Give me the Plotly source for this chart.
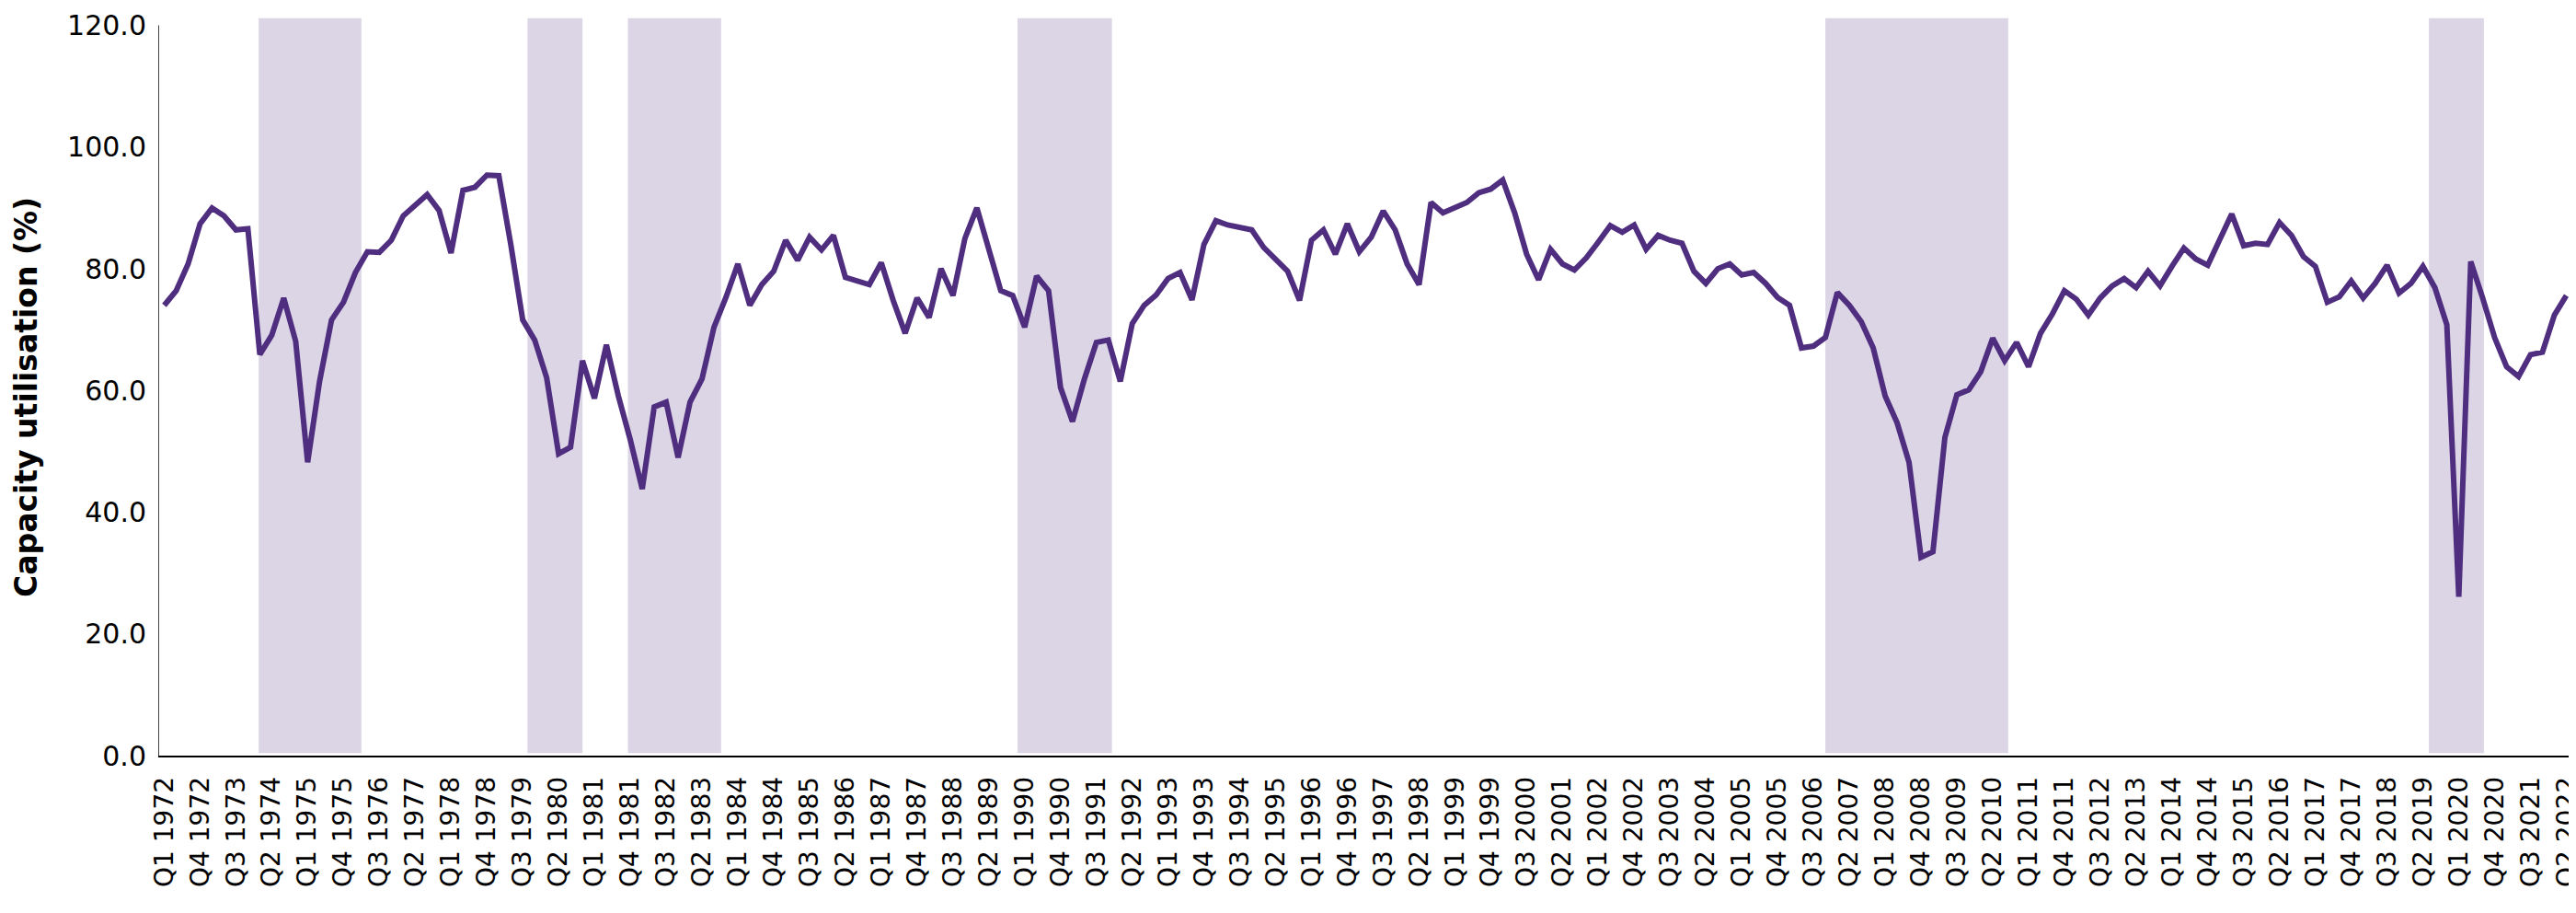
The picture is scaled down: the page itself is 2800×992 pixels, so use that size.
import plotly.graph_objects as go

# ---------------- data ----------------
years = list(range(1972, 2023))
quarters = [f"Q{q} {y}" for y in years for q in (1, 2, 3, 4)][:202]  # Q1 1972 .. Q2 2022

capacity_utilisation = [
    # 1972 - 1981
    74.0, 76.4, 80.8, 87.4, 90.0, 88.7, 86.4, 86.6, 65.9, 69.1,
    75.2, 68.1, 48.2, 61.5, 71.6, 74.5, 79.4, 82.8, 82.7, 84.7,
    88.7, 90.6, 92.2, 89.6, 82.6, 92.9, 93.4, 95.4, 95.3, 84.0,
    71.6, 68.3, 62.1, 49.6, 50.7, 64.9, 58.7, 67.5, 59.1, 51.9,
    # 1982 - 1991
    43.8, 57.3, 58.1, 49.0, 58.1, 61.9, 70.4, 75.3, 80.8, 74.0,
    77.4, 79.6, 84.7, 81.4, 85.2, 83.1, 85.5, 78.6, 78.1, 77.4,
    81.0, 74.8, 69.4, 75.2, 72.0, 80.0, 75.6, 85.0, 90.0, 83.2,
    76.4, 75.6, 70.4, 78.8, 76.4, 60.5, 54.9, 61.9, 67.9, 68.3,
    # 1992 - 2001
    61.5, 71.0, 74.0, 75.7, 78.4, 79.4, 74.9, 84.0, 87.9, 87.2,
    86.8, 86.4, 83.5, 81.4, 79.6, 74.8, 84.7, 86.4, 82.4, 87.4,
    82.8, 85.2, 89.5, 86.4, 80.8, 77.4, 90.9, 89.2, 90.0, 90.9,
    92.5, 93.1, 94.6, 89.2, 82.4, 78.2, 83.2, 80.8, 79.8, 81.8,
    # 2002 - 2011
    84.4, 87.1, 86.0, 87.2, 83.2, 85.5, 84.7, 84.2, 79.6, 77.6,
    80.0, 80.8, 79.0, 79.4, 77.6, 75.3, 74.0, 67.0, 67.3, 68.7,
    76.1, 74.0, 71.3, 67.0, 59.1, 54.7, 48.2, 32.6, 33.5, 52.3,
    59.3, 60.1, 63.1, 68.6, 64.9, 67.9, 63.9, 69.4, 72.6, 76.4,
    # 2012 - 2022
    75.0, 72.4, 75.2, 77.2, 78.4, 76.9, 79.6, 77.2, 80.4, 83.4,
    81.6, 80.6, 84.8, 89.0, 83.8, 84.2, 84.0, 87.6, 85.5, 82.0,
    80.4, 74.5, 75.4, 78.0, 75.2, 77.6, 80.6, 76.0, 77.6, 80.4,
    76.9, 70.8, 26.1, 81.2, 75.2, 68.7, 63.9, 62.3, 65.9, 66.3,
    72.4, 75.6,
]

tick_labels = quarters[::3]
y_tick_values = [0, 20, 40, 60, 80, 100, 120]

# shaded downturn periods, in quarter positions along the category axis
recession_start = [7.9, 30.4, 38.8, 71.4, 139.0, 189.5]
recession_end = [16.5, 35.0, 46.6, 79.3, 154.3, 194.1]

# ---------------- figure ----------------
LINE_COLOR = "#4F2D7F"
SHADE_COLOR = "#DBD5E6"
FONT = "DejaVu Sans"

fig = go.Figure()

fig.add_trace(go.Scatter(
    x=quarters,
    y=capacity_utilisation,
    mode="lines",
    line=dict(color=LINE_COLOR, width=6),
    hoverinfo="x+y",
    showlegend=False,
))

shapes = []
for x0, x1 in zip(recession_start, recession_end):
    shapes.append(dict(
        type="rect", xref="x", yref="y",
        x0=x0, x1=x1, y0=0.4, y1=121.2,
        fillcolor=SHADE_COLOR, line=dict(width=0), layer="below",
    ))
# vertical axis line (0 to 120)
shapes.append(dict(
    type="line", xref="x", yref="y",
    x0=-0.5, x1=-0.5, y0=0, y1=120,
    line=dict(color="#000000", width=1.5), layer="above",
))

fig.update_layout(
    width=2800,
    height=992,
    autosize=False,
    margin=dict(l=164, r=10, t=2, b=179),
    paper_bgcolor="white",
    plot_bgcolor="white",
    font=dict(family=FONT, color="#000000"),
    shapes=shapes,
    annotations=[dict(
        text="Capacity utilisation (%)",
        textangle=-90,
        xref="paper", yref="y",
        x=-0.0545, y=59,
        xanchor="center", yanchor="middle",
        showarrow=False,
        font=dict(family=FONT, size=33, color="#000000", weight="bold"),
    )],
)

fig.update_xaxes(
    type="category",
    range=[-0.5, len(quarters) - 0.5],
    tickmode="array",
    tickvals=tick_labels,
    ticktext=tick_labels,
    tickangle=-90,
    tickfont=dict(family=FONT, size=28, color="#000000"),
    ticks="",
    ticklabelstandoff=10,
    showgrid=False,
    zeroline=False,
    showline=True,
    linecolor="#000000",
    linewidth=1.5,
)

fig.update_yaxes(
    range=[0, 121.3],
    tickmode="array",
    tickvals=y_tick_values,
    ticktext=[f"{v:.1f}" for v in y_tick_values],
    tickfont=dict(family=FONT, size=30, color="#000000"),
    ticks="",
    ticklabelstandoff=12,
    ticklabeloverflow="allow",
    showgrid=False,
    zeroline=False,
    showline=False,
)

fig.write_html("out.html")
